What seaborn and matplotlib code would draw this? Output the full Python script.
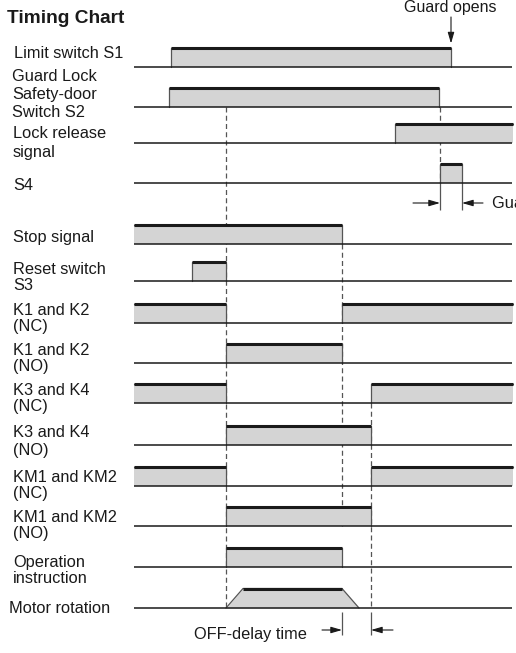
import numpy as np
import pandas as pd
import matplotlib
matplotlib.use("Agg")
import matplotlib.pyplot as plt
import seaborn as sns

# ---- data -------------------------------------------------------------
TITLE = "Timing Chart"
SIGNALS = [
    "Limit switch S1",
    "Guard Lock\nSafety-door\nSwitch S2",
    "Lock release\nsignal",
    "S4",
    "Stop signal",
    "Reset switch\nS3",
    "K1 and K2\n(NC)",
    "K1 and K2\n(NO)",
    "K3 and K4\n(NC)",
    "K3 and K4\n(NO)",
    "KM1 and KM2\n(NC)",
    "KM1 and KM2\n(NO)",
    "Operation\ninstruction",
    "Motor rotation",
]
# time axis runs 0 .. T_END, ON intervals per signal
T_END = 378
ON_TIMES = [
    [(37, 317)],
    [(35, 305)],
    [(261, 379)],
    [(306, 328)],
    [(0, 208)],
    [(58, 92)],
    [(0, 92), (208, 379)],
    [(92, 208)],
    [(0, 92), (237, 379)],
    [(92, 237)],
    [(0, 92), (237, 379)],
    [(92, 237)],
    [(92, 208)],
    [],
]
# motor speed ramps up and coasts down
MOTOR_T = [92, 109, 208, 225]
MOTOR_LEVEL = [0, 1, 1, 0]
# dashed sync lines: time, from row, to row
DASH_T = [92, 208, 237, 306]
DASH_FROM = [1, 4, 8, 1]
DASH_TO = [13, 11, 13, 3]
GUARD_OPENS_T = 317
GUARD_SPAN = (306, 328)
OFF_DELAY_SPAN = (208, 237)

# ---- layout (pixels) --------------------------------------------------
X0 = 134
BASE_Y = [67, 107, 143, 183, 244, 281, 323, 363, 403, 445, 486, 526, 567, 608]
PULSE_H = 19.5
LABEL_Y = [58, 81, 138, 190, 242, 274, 315, 355, 395, 437, 482, 522, 567, 613]
LABEL_X = [14, 12, 13, 13, 13, 13, 13, 13, 13, 13, 13, 13, 13, 9]
LINE_STEP = [0, 18, 18.5, 0, 0, 16, 16, 16, 16, 18, 16, 16, 16, 0]
FILL = "#d4d4d4"
INK = "#1a1a1a"
EDGE = "#555555"
FS = 11.8


def main():
    sns.set_theme(style="white")
    plt.rcParams["font.family"] = ["Liberation Sans", "DejaVu Sans"]

    fig = plt.figure(figsize=(5.16, 6.53), dpi=100)
    ax = fig.add_axes([0, 0, 1, 1])

    outline = []
    tops = []
    for i, spans in enumerate(ON_TIMES):
        b = BASE_Y[i]
        h = b - PULSE_H
        for k, (s, e) in enumerate(spans):
            seg = f"{i}-{k}"
            pts = []
            if s > 0:
                pts.append((s, b))
            pts += [(s, h), (e, h)]
            if e < T_END:
                pts.append((e, b))
            for j, (t, y) in enumerate(pts):
                outline.append([seg, j, t, y])
            tops += [[seg, 0, s, h], [seg, 1, e, h]]
            ax.fill_between([s, e], b, h, color=FILL, lw=0, zorder=2)

    # motor rotation trapezoid
    b = BASE_Y[-1]
    my = [b - lv * PULSE_H for lv in MOTOR_LEVEL]
    ax.fill_between(MOTOR_T, b, my, color=FILL, lw=0, zorder=2)
    for j, (t, y) in enumerate(zip(MOTOR_T, my)):
        outline.append(["motor", j, t, y])
    top_pts = [(t, y) for t, y, lv in zip(MOTOR_T, my, MOTOR_LEVEL) if lv == 1]
    for j, (t, y) in enumerate(top_pts):
        tops.append(["motor", j, t, y])

    outline = pd.DataFrame(outline, columns=["seg", "order", "t", "y"])
    tops = pd.DataFrame(tops, columns=["seg", "order", "t", "y"])

    sns.lineplot(data=outline, x="t", y="y", units="seg", estimator=None,
                 sort=False, color=EDGE, lw=0.9, legend=False, ax=ax,
                 zorder=3)
    sns.lineplot(data=tops, x="t", y="y", units="seg", estimator=None,
                 sort=False, color=INK, lw=2.2, legend=False, ax=ax,
                 zorder=5, solid_capstyle="butt")

    # baselines
    ax.hlines(BASE_Y, 0, T_END, color=INK, lw=1.1, zorder=4)

    # dashed sync lines (behind the fills)
    for t, r0, r1 in zip(DASH_T, DASH_FROM, DASH_TO):
        ax.vlines(t, BASE_Y[r0], BASE_Y[r1], color=EDGE, lw=0.9,
                  linestyles=(0, (4, 2.6)), zorder=1)

    # labels
    for i, lab in enumerate(SIGNALS):
        for n, line in enumerate(lab.split("\n")):
            ax.text(LABEL_X[i] - X0, LABEL_Y[i] + n * LINE_STEP[i], line,
                    fontsize=FS, color=INK, ha="left", va="baseline")
    ax.text(7 - X0, 23, TITLE, fontsize=13.8, fontweight="bold", color=INK,
            ha="left", va="baseline")

    arrow = dict(arrowstyle="-|>,head_length=0.55,head_width=0.16",
                 mutation_scale=12, color=INK, lw=0.8, shrinkA=0, shrinkB=0)

    # guard opens
    ax.text(GUARD_OPENS_T - 1, 12, "Guard opens", fontsize=FS - 0.3,
            color=INK, ha="center", va="baseline")
    ax.annotate("", xy=(GUARD_OPENS_T, BASE_Y[0] - PULSE_H - 4),
                xytext=(GUARD_OPENS_T, 17), arrowprops=arrow)

    # guard lock time dimension
    gy = 203
    g0, g1 = GUARD_SPAN
    ax.vlines([g0, g1], BASE_Y[3], gy + 7, color=EDGE, lw=0.9, zorder=3)
    ax.annotate("", xy=(g0, gy), xytext=(g0 - 27, gy), arrowprops=arrow)
    ax.annotate("", xy=(g1, gy), xytext=(g1 + 21, gy), arrowprops=arrow)
    ax.text(g1 + 30, gy + 4.5, "Guard lock time", fontsize=FS, color=INK,
            ha="left", va="baseline", clip_on=False)

    # OFF-delay dimension
    oy = 630
    o0, o1 = OFF_DELAY_SPAN
    ax.vlines([o0, o1], 612, oy + 5, color=EDGE, lw=0.9, zorder=3)
    ax.annotate("", xy=(o0, oy), xytext=(o0 - 20, oy), arrowprops=arrow)
    ax.annotate("", xy=(o1, oy), xytext=(o1 + 22, oy), arrowprops=arrow)
    ax.text(o0 - 35, oy + 9, "OFF-delay time", fontsize=FS, color=INK,
            ha="right", va="baseline")

    ax.set_xlim(-X0, 516 - X0)
    ax.set_ylim(653, 0)
    ax.axis("off")
    fig.savefig("out.png", dpi=100)
    plt.close(fig)


if __name__ == "__main__":
    main()
